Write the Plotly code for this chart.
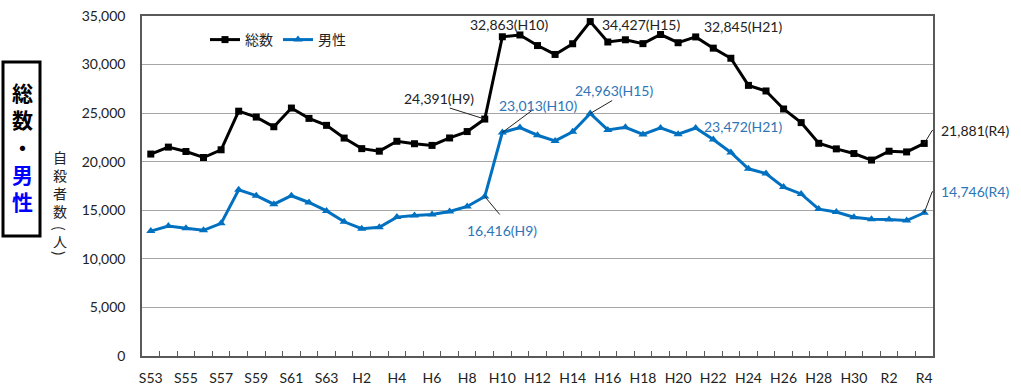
import plotly.graph_objects as go

# ---- data ----
years = (["S%d" % n for n in range(53, 64)] +
         ["H%d" % n for n in range(1, 31)] +
         ["R%d" % n for n in range(1, 5)])
total = [20788, 21503, 21048, 20434, 21228, 25202, 24596, 23599, 25524, 24460,
         23742, 22436, 21346, 21084, 22104, 21851, 21679, 22445, 23104, 24391,
         32863, 33048, 31957, 31042, 32143, 34427, 32325, 32552, 32155, 33093,
         32249, 32845, 31690, 30651, 27858, 27283, 25427, 24025, 21897, 21321,
         20840, 20169, 21081, 21007, 21881]
male = [12859, 13386, 13155, 12942, 13654, 17116, 16508, 15624, 16497, 15802,
        14934, 13818, 13102, 13242, 14296, 14468, 14560, 14874, 15393, 16416,
        23013, 23512, 22727, 22144, 23080, 24963, 23272, 23540, 22813, 23478,
        22831, 23472, 22283, 20955, 19273, 18787, 17386, 16681, 15121, 14826,
        14290, 14078, 14055, 13939, 14746]
tick_text = [y if i % 2 == 0 else "" for i, y in enumerate(years)]

BLACK = "#000000"
BLUE = "#0070C0"
BLUE_TXT = "#2E75B6"
FONT = "Lato, 'Noto Sans CJK JP', sans-serif"
JFONT = "'Noto Sans CJK JP', sans-serif"

L, R, T, B = 142, 88, 16, 30
W, H = 1021, 386
PW, PH = W - L - R, H - T - B


def px_x(p):
    return (p - L) / PW


def px_y(p):
    return (H - B - p) / PH


fig = go.Figure()
fig.add_trace(go.Scatter(x=years, y=total, name="総数", mode="lines+markers",
                         line=dict(color=BLACK, width=3),
                         marker=dict(symbol="square", size=7, color=BLACK)))
fig.add_trace(go.Scatter(x=years, y=male, name="男性", mode="lines+markers",
                         line=dict(color=BLUE, width=3),
                         marker=dict(symbol="triangle-up", size=8, color=BLUE)))

# ---- value labels (category, series, text, colour, xanchor, xshift, yshift) ----
labels = [
    ("H10", total, "32,863(H10)", "#222", "center", 7, 12),
    ("H15", total, "34,427(H15)", "#222", "left", 10, -3),
    ("H21", total, "32,845(H21)", "#222", "left", 6, 10),
    ("H9", total, "24,391(H9)", "#222", "right", -9, 21),
    ("H10", male, "23,013(H10)", BLUE_TXT, "left", -5, 27),
    ("H15", male, "24,963(H15)", BLUE_TXT, "left", -17, 23),
    ("H21", male, "23,472(H21)", BLUE_TXT, "left", 6, 1),
    ("H9", male, "16,416(H9)", BLUE_TXT, "center", 17, -34),
    ("R4", total, "21,881(R4)", "#222", "left", 15, 13),
    ("R4", male, "14,746(R4)", BLUE_TXT, "left", 15, 21),
]
for cat, ser, txt, col, xa, xs, ys in labels:
    fig.add_annotation(x=cat, y=ser[years.index(cat)], xref="x", yref="y",
                       text=txt, showarrow=False, xanchor=xa, yanchor="middle",
                       xshift=xs, yshift=ys, font=dict(family=FONT, size=14, color=col))

# ---- leader lines (category, series, [(dx0,dy0,dx1,dy1) in px, y up]) ----
leaders = [
    ("H9", total, [(0, 0, -35, 11)]),
    ("H10", male, [(0, 0, 31, 23)]),
    ("H15", male, [(0, 0, 22, 13)]),
    ("H9", male, [(0, 0, 15, -18)]),
    ("R4", total, [(0, 0, 8, 13), (8, 13, 13, 13)]),
    ("R4", male, [(0, 0, 8, 21), (8, 21, 13, 21)]),
]
for cat, ser, segs in leaders:
    for x0, y0, x1, y1 in segs:
        fig.add_shape(type="line", xref="x", yref="y",
                      xsizemode="pixel", ysizemode="pixel",
                      xanchor=cat, yanchor=ser[years.index(cat)],
                      x0=x0, y0=y0, x1=x1, y1=y1,
                      line=dict(color="#222", width=1))

# ---- left box label ----
fig.add_shape(type="rect", xref="paper", yref="paper",
              x0=px_x(3), x1=px_x(40), y0=px_y(236), y1=px_y(62),
              line=dict(color="black", width=3))
box_text = ("<b>総</b><br><b>数</b><br><b>・</b><br>"
            "<span style='color:#0000FF'><b>男</b></span><br>"
            "<span style='color:#0000FF'><b>性</b></span>")
fig.add_annotation(xref="paper", yref="paper", x=px_x(22), y=px_y(146),
                   text=box_text, showarrow=False,
                   xanchor="center", yanchor="middle",
                   font=dict(family=JFONT, size=21, color="black"))

# ---- vertical y-axis title ----
title_chars = ["自", "殺", "者", "数", "(", "人", ")"]
title_ang = [0, 0, 0, 0, 90, 0, 90]
title_py = [157, 175, 193, 211, 228, 241, 253]
for ch, ang, py in zip(title_chars, title_ang, title_py):
    fig.add_annotation(xref="paper", yref="paper", x=px_x(60), y=px_y(py),
                       text=ch, textangle=ang, showarrow=False,
                       xanchor="center", yanchor="middle",
                       font=dict(family=JFONT, size=14, color="#222"))

fig.update_layout(
    width=W, height=H,
    margin=dict(l=L, r=R, t=T, b=B, pad=0, autoexpand=False),
    paper_bgcolor="white", plot_bgcolor="white",
    font=dict(family=FONT, size=14, color="#222"),
    showlegend=True,
    legend=dict(orientation="h", x=px_x(205), y=px_y(40), xanchor="left",
                yanchor="middle", bgcolor="rgba(0,0,0,0)",
                font=dict(family=JFONT, size=14, color="#222"),
                itemwidth=30, tracegroupgap=0),
)
fig.update_xaxes(type="category", categoryorder="array", categoryarray=years,
                 range=[-0.5, len(years) - 0.5], automargin=False,
                 tickmode="array", tickvals=years, ticktext=tick_text,
                 tickangle=0,
                 tickson="boundaries", ticks="inside", ticklen=5,
                 tickcolor="#595959", tickwidth=1,
                 showline=True, linecolor="#595959", linewidth=1.5, mirror=True,
                 showgrid=False, ticklabelstandoff=8,
                 tickfont=dict(family=FONT, size=14, color="#222"))
fig.update_yaxes(range=[0, 35000], dtick=5000, tickformat=",", automargin=False,
                 showgrid=True, gridcolor="#A6A6A6", gridwidth=1,
                 showline=True, linecolor="#595959", linewidth=1.5, mirror=True,
                 ticks="", ticklabelstandoff=12, zeroline=False,
                 tickfont=dict(family=FONT, size=14, color="#222"))

fig.write_html("out.html")
